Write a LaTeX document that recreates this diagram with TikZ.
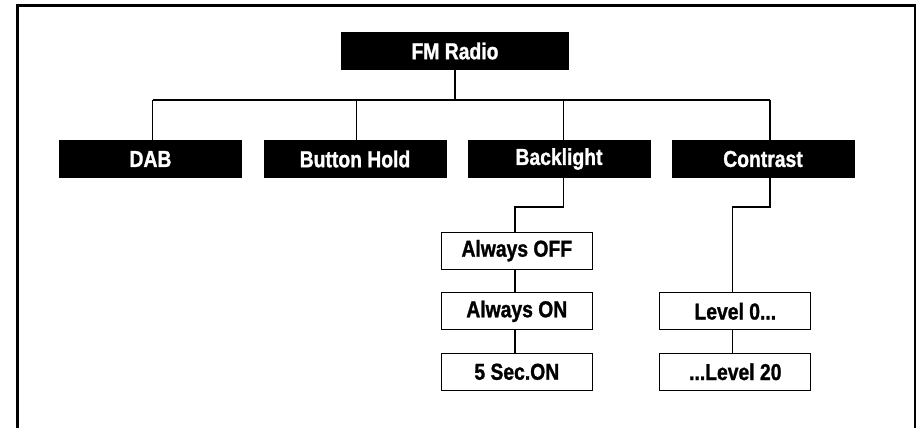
\documentclass[tikz,border=0pt]{standalone}
\usepackage{fontspec}
\setmainfont{Liberation Sans}[FakeStretch=0.84, BoldFeatures={FakeBold=1.2}]
\usetikzlibrary{calc}
\tikzset{
  darkbox/.style={fill=black, text=white, minimum width=183pt, minimum height=38pt, inner sep=0pt, font=\fontsize{23}{25}\selectfont\bfseries},
  lightbox/.style={draw=black, fill=white, line width=1.2pt, text=black, minimum width=151pt, minimum height=37pt, inner sep=0pt, font=\fontsize{23}{25}\selectfont\bfseries},
  link/.style={draw=black, line width=1.4pt},
  frame/.style={draw=black, line width=2.8pt, line cap=butt, line join=miter}
}
\begin{document}
\begin{tikzpicture}[x=1pt, y=-1pt]
\useasboundingbox (0,0) rectangle (920,428);
\fill[white] (0,0) rectangle (920,428);
\draw[frame] (17.5,428) -- (17.5,5.8) -- (915,5.8) -- (915,428);

% top level
\node[darkbox, minimum width=228pt] (fm) at (455,51) {FM Radio};
\node[darkbox] (dab) at (150.5,159) {DAB};
\node[darkbox] (bh) at (355,159) {Button Hold};
\node[darkbox] (bl) at (559,159) {Backlight};
\node[darkbox] (ct) at (763,159) {Contrast};

% sub items
\node[lightbox] (aoff) at (516.8,250.7) {Always OFF};
\node[lightbox] (aon) at (516.8,311.3) {Always ON};
\node[lightbox] (sec) at (516.8,371.8) {5 Sec.ON};
\node[lightbox] (l0) at (735.3,311.3) {Level 0...};
\node[lightbox] (l20) at (735.3,371.8) {...Level 20};

% bus coordinates
\coordinate (d1) at (152.7,100);
\coordinate (d2) at (356.7,100);
\coordinate (d3) at (563.3,100);
\coordinate (d4) at (770,100);
\coordinate (b1) at (563.3,207);
\coordinate (c1) at (770,207);

% connectors
\draw[link] (fm.south) -- (fm.south |- d1);
\draw[link] (d1) -- (d4);
\draw[link] (d1) -- (d1 |- dab.north);
\draw[link] (d2) -- (d2 |- bh.north);
\draw[link] (d3) -- (d3 |- bl.north);
\draw[link] (d4) -- (d4 |- ct.north);

\draw[link] (b1 |- bl.south) -- (b1) -| ($(aoff.north)+(-1.8,0)$);
\draw[link] (c1 |- ct.south) -- (c1) -| ($(l0.north)+(-3,0)$);

\draw[link] ($(aoff.south)+(-1.8,0)$) -- ($(aon.north)+(-1.8,0)$);
\draw[link] ($(aon.south)+(-1.8,0)$) -- ($(sec.north)+(-1.8,0)$);
\draw[link] ($(l0.south)+(-3,0)$) -- ($(l20.north)+(-3,0)$);
\end{tikzpicture}
\end{document}
